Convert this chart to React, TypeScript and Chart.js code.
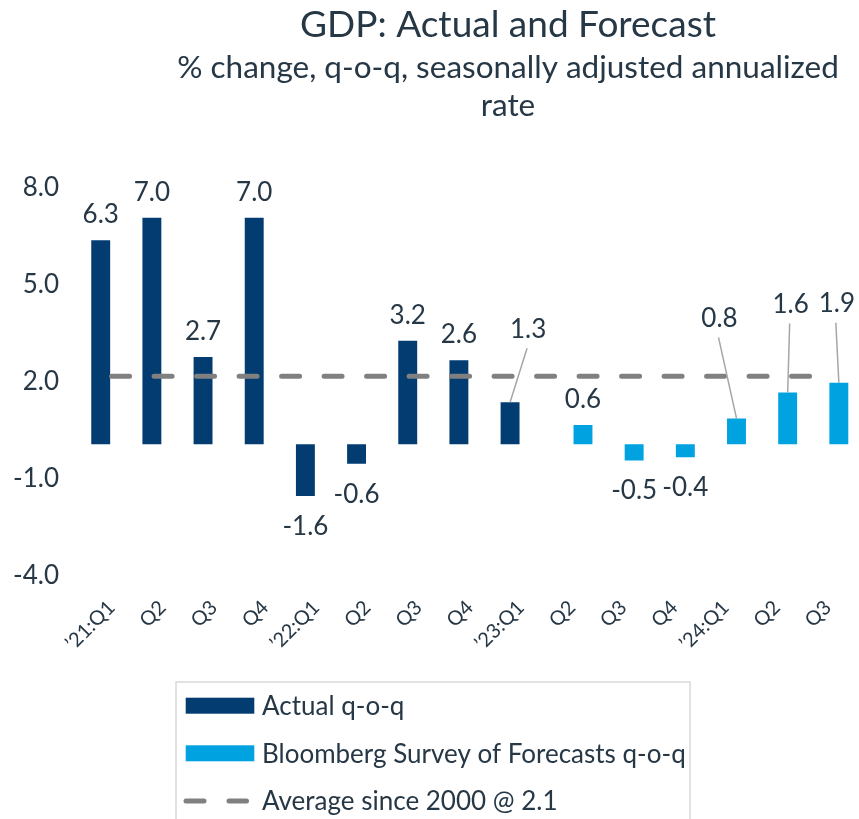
import React, { useEffect, useRef } from 'react';
import { Chart, registerables } from 'chart.js';

Chart.register(...registerables);

const categories = ['\u201921:Q1', 'Q2', 'Q3', 'Q4', '\u201922:Q1', 'Q2', 'Q3', 'Q4', '\u201923:Q1', 'Q2', 'Q3', 'Q4', '\u201924:Q1', 'Q2', 'Q3'];
const actual = [6.3, 7.0, 2.7, 7.0, -1.6, -0.6, 3.2, 2.6, 1.3, null, null, null, null, null, null];
const forecast = [null, null, null, null, null, null, null, null, null, 0.6, -0.5, -0.4, 0.8, 1.6, 1.9];
const average = [2.1, 2.1, 2.1, 2.1, 2.1, 2.1, 2.1, 2.1, 2.1, 2.1, 2.1, 2.1, 2.1, 2.1, 2.1];
const seriesNames = ['Actual q-o-q', 'Bloomberg Survey of Forecasts q-o-q', 'Average since 2000 @ 2.1'];
const titleText = 'GDP: Actual and Forecast';
const subtitleLines = ['% change, q-o-q, seasonally adjusted annualized', 'rate'];
const yMin = -4;
const yMax = 8;
const yStep = 3;

const TEXT = '#263746';
const DARK = '#023c70';
const LIGHT = '#00a3e0';
const GREY = '#808080';
const FONT = 'Lato';

// label leader offsets (pixels from bar top) for crowded labels: key = "dataset:index"
const leaders: Record<string, [number, number]> = {
  '0:8': [18, -74],
  '1:12': [-17, -101],
  '1:13': [3, -89],
  '1:14': [-2, -80],
};

const decorPlugin = {
  id: 'decor',
  afterDatasetsDraw(chart: any) {
    const ctx = chart.ctx;
    ctx.save();
    ctx.font = `26px ${FONT}`;
    ctx.fillStyle = TEXT;
    ctx.textAlign = 'center';
    ctx.textBaseline = 'alphabetic';
    [0, 1].forEach((di) => {
      const meta = chart.getDatasetMeta(di);
      const data = chart.data.datasets[di].data;
      meta.data.forEach((el: any, i: number) => {
        const v = data[i];
        if (v === null || v === undefined) return;
        const label = v.toFixed(1);
        const key = `${di}:${i}`;
        if (leaders[key]) {
          const [dx, dy] = leaders[key];
          const cx = el.x + dx;
          const cy = el.y + dy;
          ctx.strokeStyle = '#a6a6a6';
          ctx.lineWidth = 1.5;
          ctx.beginPath();
          ctx.moveTo(cx - 1, cy + 20);
          ctx.lineTo(el.x, el.y);
          ctx.stroke();
          ctx.fillText(label, cx, cy + 9.5);
        } else if (v >= 0) {
          ctx.fillText(label, el.x, el.y - 17);
        } else {
          ctx.fillText(label, el.x, el.y + 39);
        }
      });
    });
    ctx.restore();
  },
  afterDraw(chart: any) {
    const ctx = chart.ctx;
    ctx.save();
    ctx.fillStyle = TEXT;
    ctx.textAlign = 'center';
    ctx.textBaseline = 'alphabetic';
    ctx.font = `37px ${FONT}`;
    ctx.fillText(titleText, 508, 37);
    ctx.font = `31.5px ${FONT}`;
    ctx.fillText(subtitleLines[0], 508, 78);
    ctx.fillText(subtitleLines[1], 508, 116);

    // legend box
    ctx.strokeStyle = '#d9d9d9';
    ctx.lineWidth = 1.5;
    ctx.strokeRect(176, 682, 514, 160);
    const rows = [705.7, 753.3, 801];
    ctx.fillStyle = DARK;
    ctx.fillRect(185.7, rows[0] - 8, 68.6, 16);
    ctx.fillStyle = LIGHT;
    ctx.fillRect(185.7, rows[1] - 8, 68.6, 16);
    ctx.strokeStyle = GREY;
    ctx.lineWidth = 5;
    ctx.lineCap = 'round';
    ctx.beginPath();
    ctx.moveTo(186, rows[2]);
    ctx.lineTo(204, rows[2]);
    ctx.moveTo(229, rows[2]);
    ctx.lineTo(246.5, rows[2]);
    ctx.stroke();
    ctx.fillStyle = TEXT;
    ctx.textAlign = 'left';
    ctx.textBaseline = 'middle';
    ctx.font = `26px ${FONT}`;
    seriesNames.forEach((n, i) => ctx.fillText(n, 262, rows[i] + 1));
    ctx.restore();
  },
};

export default function App() {
  const ref = useRef<HTMLCanvasElement | null>(null);
  useEffect(() => {
    if (!ref.current) return;
    const chart = new Chart(ref.current, {
      type: 'bar',
      data: {
        labels: categories,
        datasets: [
          {
            type: 'bar',
            label: seriesNames[0],
            data: actual,
            backgroundColor: DARK,
            categoryPercentage: 0.85,
            barPercentage: 0.87,
            order: 1,
          },
          {
            type: 'bar',
            label: seriesNames[1],
            data: forecast,
            backgroundColor: LIGHT,
            categoryPercentage: 0.85,
            barPercentage: 0.87,
            order: 1,
          },
          {
            type: 'line',
            label: seriesNames[2],
            data: average,
            borderColor: GREY,
            borderWidth: 5,
            borderDash: [18, 24.5],
            borderCapStyle: 'round',
            pointRadius: 0,
            fill: false,
            order: 0,
          },
        ],
      } as any,
      options: {
        responsive: false,
        animation: false,
        layout: { padding: { top: 185.3, left: 0, right: 2, bottom: 819 - 573.8 - 100 } },
        plugins: { legend: { display: false }, title: { display: false }, tooltip: { enabled: false } },
        scales: {
          x: {
            grid: { display: false },
            border: { display: false },
            ticks: {
              color: TEXT,
              font: { family: FONT, size: 20 },
              maxRotation: 45,
              minRotation: 45,
              autoSkip: false,
              padding: 14,
            },
            afterFit: (s: any) => { s.height = 100; },
          },
          y: {
            min: yMin,
            max: yMax,
            border: { display: false },
            grid: {
              drawTicks: false,
              lineWidth: 2,
              color: (c: any) => (c.tick && c.tick.value === 0 ? '#d9d9d9' : 'rgba(0,0,0,0)'),
            },
            ticks: {
              stepSize: yStep,
              color: TEXT,
              font: { family: FONT, size: 26 },
              padding: 27,
              labelOffset: 2,
              callback: (v: any) => Number(v).toFixed(1),
            },
            afterFit: (s: any) => { s.width = 86; },
          },
        },
      } as any,
      plugins: [decorPlugin],
    });
    return () => chart.destroy();
  }, []);
  return (
    <div style={{ position: 'absolute', left: 0, top: 0, width: 859, height: 819, background: '#fff' }}>
      <canvas ref={ref} width={859} height={819} />
    </div>
  );
}
